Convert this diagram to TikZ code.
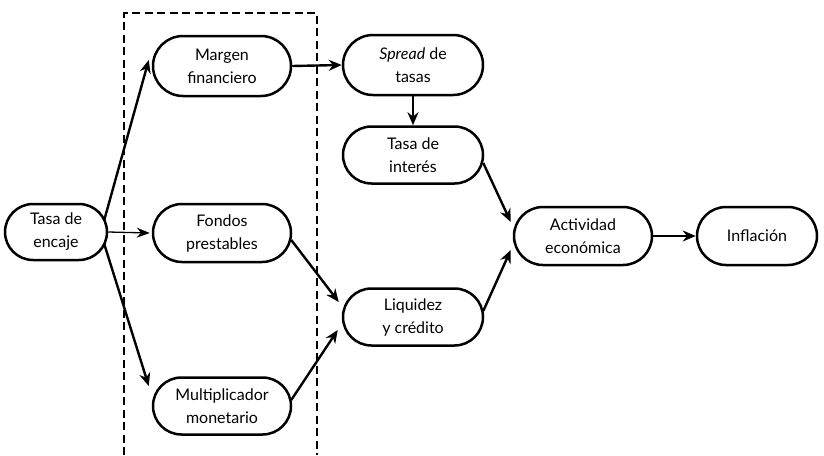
\documentclass[tikz,border=0pt]{standalone}
\usepackage{fontspec}
\setmainfont{Lato}
\usetikzlibrary{shapes.misc,arrows.meta}
\begin{document}
\begin{tikzpicture}[x=1pt,y=-1pt,
  box/.style={rounded rectangle, draw, line width=2.5pt, minimum width=138pt, minimum height=60pt, align=center, font=\fontsize{16}{23}\selectfont, inner sep=0pt},
  arr/.style={line width=2.4pt, -{Stealth[length=13pt,width=11pt]}},
  thinarr/.style={line width=1.3pt, -{Stealth[length=13pt,width=10pt]}},
  dbox/.style={line width=2.4pt, dash pattern=on 8pt off 4.5pt}]
\useasboundingbox (0,0) rectangle (824,455);
\node[box, minimum width=102pt, minimum height=56pt] (enc) at (56,232) {Tasa de\\encaje};
\node[box] (mar) at (222,66) {Margen\\financiero};
\node[box, minimum height=58pt] (fon) at (222,233) {Fondos\\prestables};
\node[box, minimum height=57pt] (mul) at (222,406) {Multiplicador\\monetario};
\node[box, minimum width=140pt] (spr) at (413,65) {\textit{Spread} de\\tasas};
\node[box, minimum width=140pt, minimum height=57pt] (tin) at (413,155) {Tasa de\\interés};
\node[box, minimum width=140pt, minimum height=57pt] (liq) at (413,317) {Liquidez\\y crédito};
\node[box, minimum height=58pt] (act) at (583,236) {Actividad\\económica};
\node[box, minimum width=120pt, minimum height=58pt] (inf) at (757,236) {Inflación};
\coordinate (d1) at (124,455);
\coordinate (d2) at (124,13);
\coordinate (d3) at (317,13);
\coordinate (d4) at (317,455);
\draw[dbox] (d1) -- (d2) -- (d3) -- (d4);
\draw[arr] ([xshift=-4pt,yshift=12pt]enc.east) -- ([xshift=-3pt,yshift=6pt]mar.west);
\draw[thinarr] (enc.east) -- ([xshift=-2pt]fon.west);
\draw[arr] ([xshift=-4pt,yshift=-12pt]enc.east) -- ([xshift=-3pt,yshift=20pt]mul.west);
\draw[arr] (mar.east) -- (spr.west);
\draw[arr] (spr.south) -- (tin.north);
\draw[arr] ([xshift=-1pt,yshift=-7pt]fon.east) -- ([xshift=-3pt,yshift=15pt]liq.west);
\draw[arr] ([xshift=-1pt,yshift=6pt]mul.east) -- ([xshift=-4pt,yshift=-13pt]liq.west);
\draw[arr] ([xshift=-1pt,yshift=-8pt]tin.east) -- ([xshift=-2pt,yshift=14pt]act.west);
\draw[arr] ([xshift=-1pt,yshift=6pt]liq.east) -- ([xshift=-2pt,yshift=-14pt]act.west);
\draw[arr] (act.east) -- (inf.west);
\end{tikzpicture}
\end{document}
